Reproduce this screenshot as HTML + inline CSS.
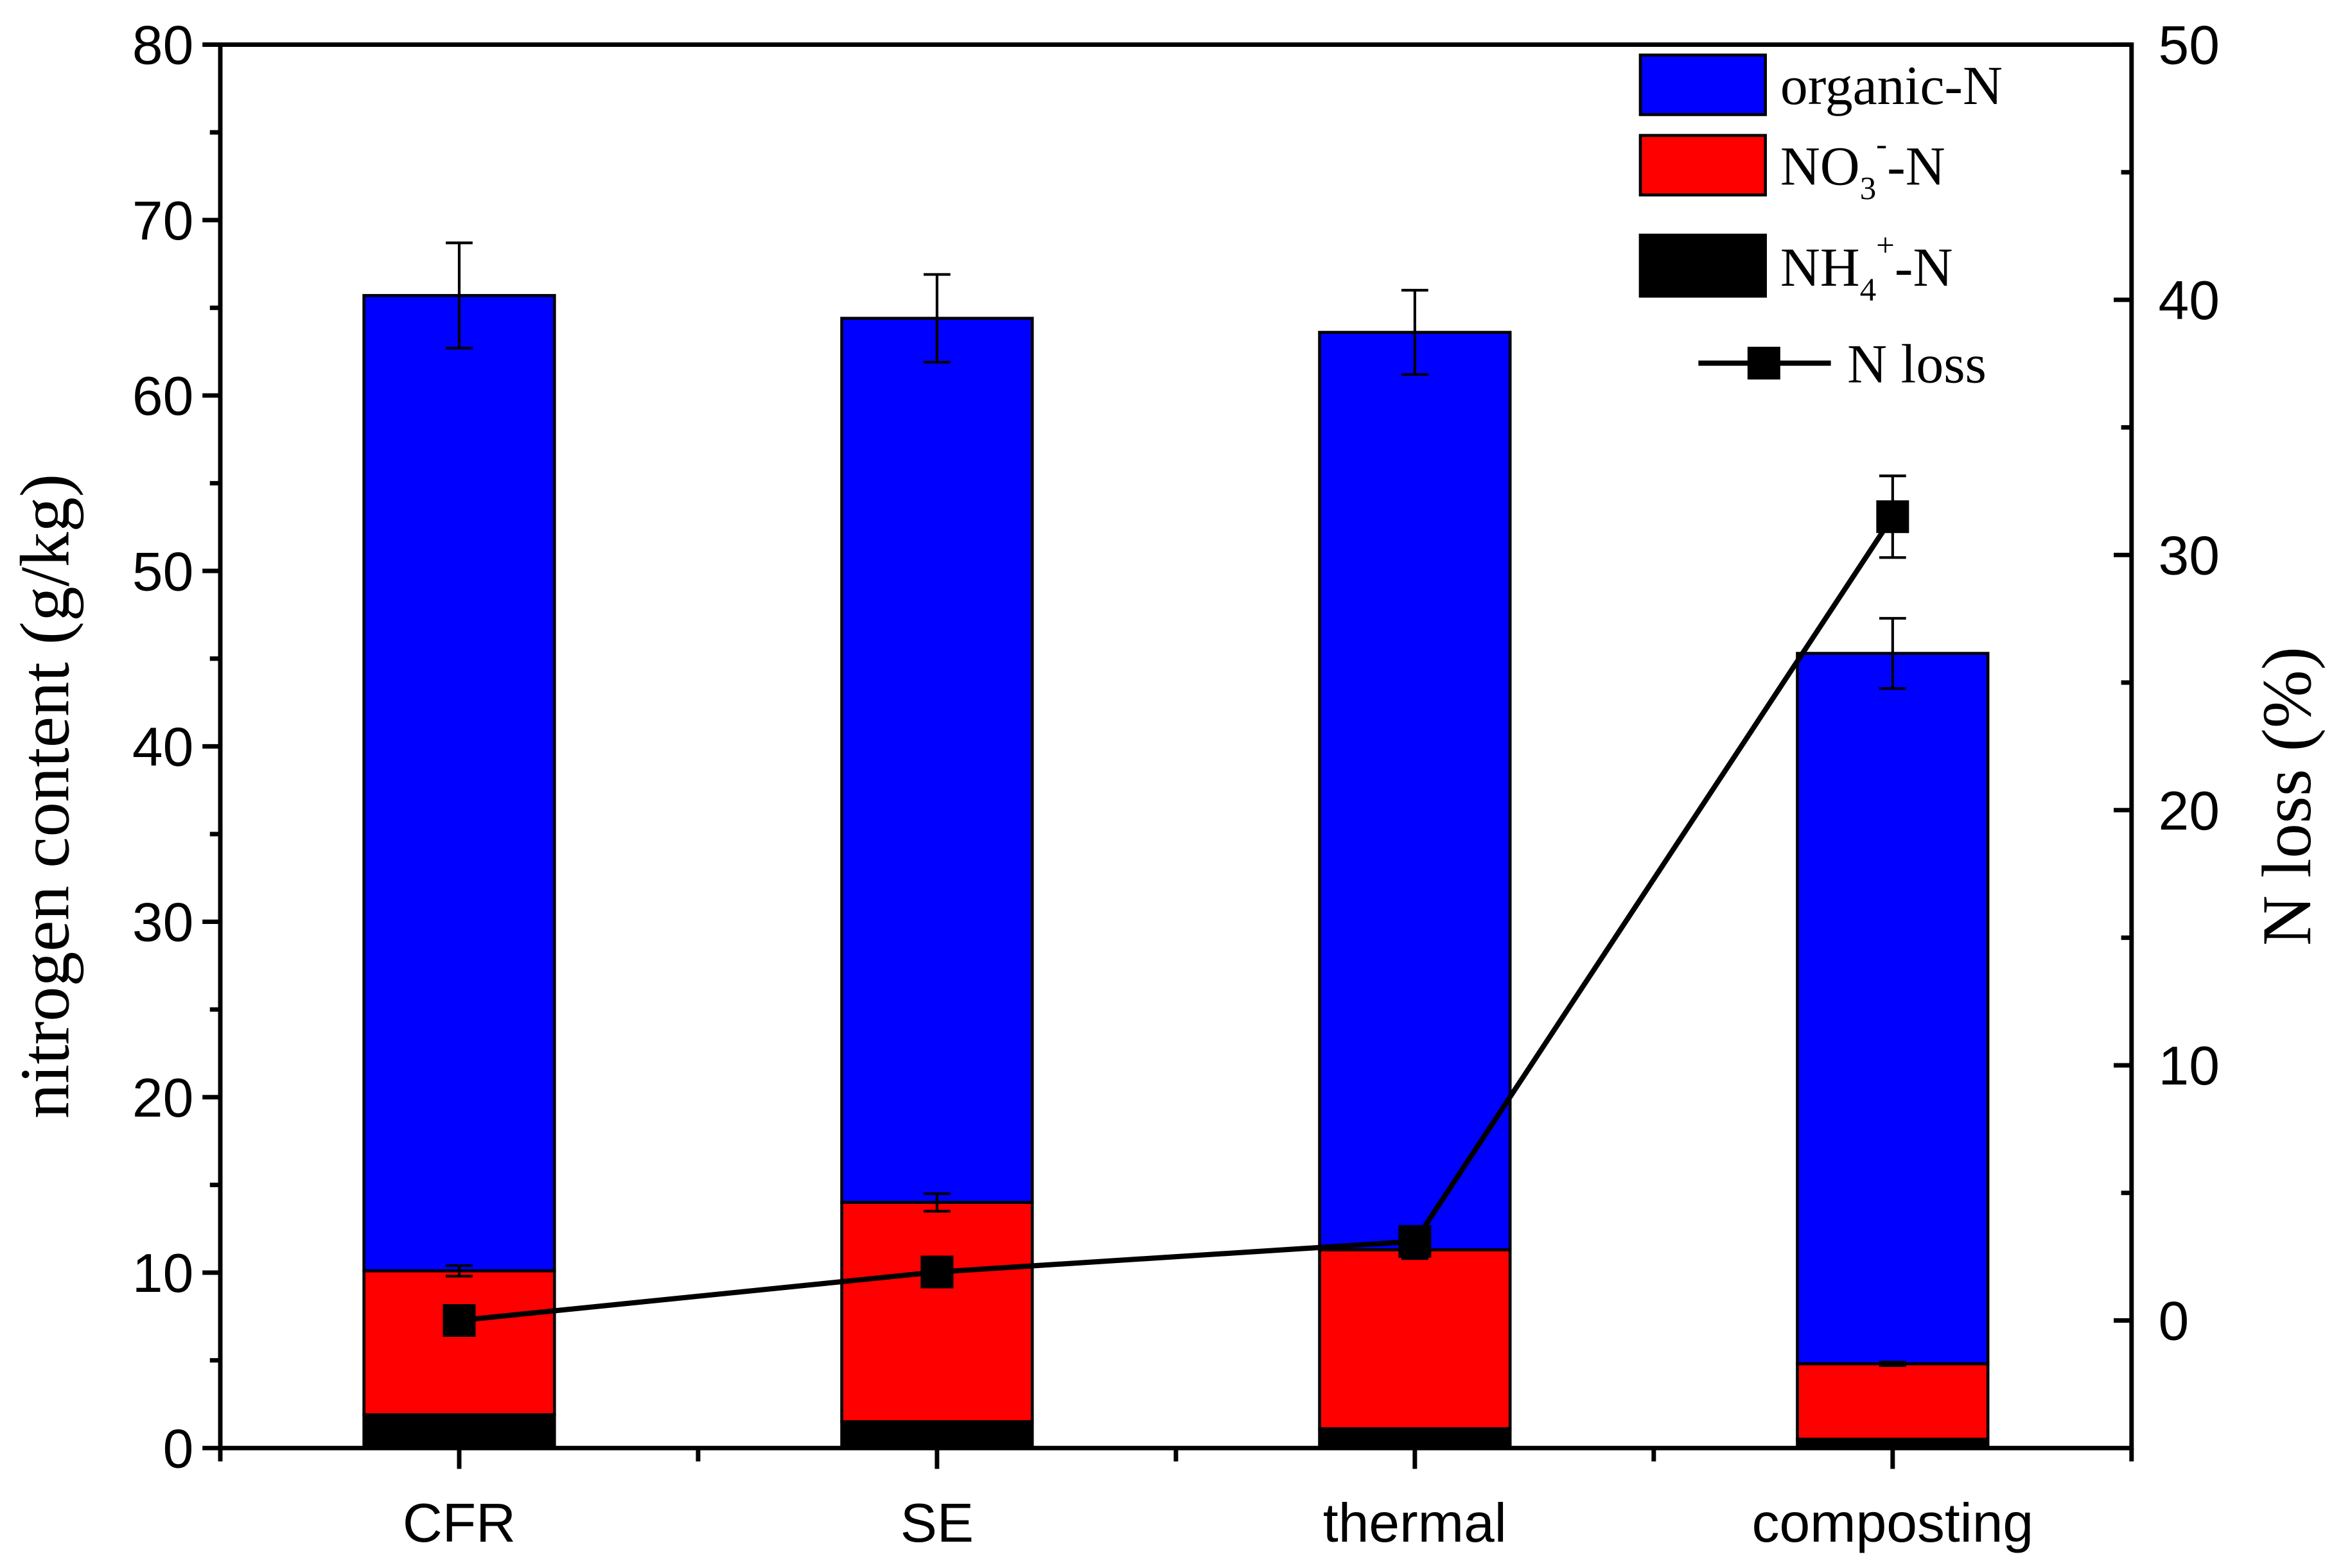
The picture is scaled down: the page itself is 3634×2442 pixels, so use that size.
<!DOCTYPE html>
<html><head><meta charset="utf-8"><style>html,body{margin:0;padding:0;background:#fff}svg{display:block}</style></head>
<body>
<svg id="chart" width="3634" height="2442" viewBox="0 0 1568 1053.6" preserveAspectRatio="none" xmlns="http://www.w3.org/2000/svg">
<g id="g"></g>
</svg>
<script>
const categories = ["CFR","SE","thermal","composting"];
const nh4 = [1.9, 1.5, 1.1, 0.5];
const no3Top = [10.1, 14.0, 11.3, 4.8];
const no3Err = [0.3, 0.5, 0.5, 0.1];
const totalTop = [65.7, 64.4, 63.6, 45.3];
const totalErr = [3.0, 2.5, 2.4, 2.0];
const nLoss = [0.0, 1.9, 3.1, 31.5];
const nLossErr = [0.3, 0.3, 0.3, 1.6];
const leftTicks = [0,10,20,30,40,50,60,70,80];
const rightTicks = [0,10,20,30,40,50];

const L=148,R=1432,T=30,B=973;
const xs = i => L + (i+0.5)*(R-L)/4;
const yl = v => B - v*(B-T)/80;
const yr = v => B - (v+5)*(B-T)/55;
const NS="http://www.w3.org/2000/svg";
const g=document.getElementById('g');
function mk(tag,attrs,parent){const e=document.createElementNS(NS,tag);for(const k in attrs)e.setAttribute(k,attrs[k]);(parent||g).appendChild(e);return e;}
const bw=128;
categories.forEach((c,i)=>{
  const x=xs(i)-bw/2;
  let e=mk('rect',{x:x,y:yl(totalTop[i]),width:bw,height:yl(no3Top[i])-yl(totalTop[i]),fill:'#0000ff',stroke:'#000','stroke-width':2});
  
  
  e=mk('rect',{x:x,y:yl(no3Top[i]),width:bw,height:yl(nh4[i])-yl(no3Top[i]),fill:'#ff0000',stroke:'#000','stroke-width':2});
  
  
  e=mk('rect',{x:x,y:yl(nh4[i]),width:bw,height:yl(0)-yl(nh4[i]),fill:'#000',stroke:'#000','stroke-width':2});
  
  
  [[totalTop[i],totalErr[i]],[no3Top[i],no3Err[i]]].forEach(([v,er])=>{
    const cx=xs(i);
    const p=mk('path',{d:`M${cx},${yl(v+er)}V${yl(v-er)}M${cx-9},${yl(v+er)}H${cx+9}M${cx-9},${yl(v-er)}H${cx+9}`,stroke:'#000','stroke-width':1.8,fill:'none'});
    
    
  });
});
let d='';nLoss.forEach((v,i)=>{d+=(i?'L':'M')+xs(i)+','+yr(v);});
let ln=mk('path',{d:d,stroke:'#000','stroke-width':3.5,fill:'none'});


nLoss.forEach((v,i)=>{
  const cx=xs(i),er=nLossErr[i];
  const p=mk('path',{d:`M${cx},${yr(v+er)}V${yr(v-er)}M${cx-9},${yr(v+er)}H${cx+9}M${cx-9},${yr(v-er)}H${cx+9}`,stroke:'#000','stroke-width':1.8,fill:'none'});
  
  
  const m=mk('rect',{x:cx-11,y:yr(v)-11,width:22,height:22,fill:'#000'});
  
  
});
let fr=mk('rect',{x:L,y:T,width:R-L,height:B-T,fill:'none',stroke:'#000','stroke-width':3});


for(let v=0;v<=80;v+=5){const maj=v%10===0;mk('line',{x1:L-(maj?12:7),x2:L,y1:yl(v),y2:yl(v),stroke:'#000','stroke-width':3});}
leftTicks.forEach(v=>{const t=mk('text',{x:L-18,y:yl(v)+13,'text-anchor':'end','font-family':'Liberation Sans, Arial, sans-serif','font-size':37});t.textContent=v;
  
  });
for(let v=0;v<=50;v+=5){const maj=v%10===0;mk('line',{x1:R-(maj?12:7),x2:R,y1:yr(v),y2:yr(v),stroke:'#000','stroke-width':3});}
rightTicks.forEach(v=>{const t=mk('text',{x:R+18,y:yr(v)+13,'text-anchor':'start','font-family':'Liberation Sans, Arial, sans-serif','font-size':37});t.textContent=v;
  
  });
for(let i=0;i<=4;i++){const x=L+i*(R-L)/4;mk('line',{x1:x,x2:x,y1:B,y2:B+9,stroke:'#000','stroke-width':3});}
categories.forEach((c,i)=>{mk('line',{x1:xs(i),x2:xs(i),y1:B,y2:B+14,stroke:'#000','stroke-width':3});
  const t=mk('text',{x:xs(i),y:1036,'text-anchor':'middle','font-family':'Liberation Sans, Arial, sans-serif','font-size':37});t.textContent=c;
  
  });
</script>
<svg style="position:absolute;left:0;top:0" width="3634" height="2442" viewBox="0 0 1568 1053.6" preserveAspectRatio="none" xmlns="http://www.w3.org/2000/svg">
<text transform="translate(46,535) rotate(-90)" text-anchor="middle" font-family="Liberation Serif, Times New Roman, serif" font-size="47">nitrogen content (g/kg)</text>
<text transform="translate(1552,535) rotate(-90)" text-anchor="middle" font-family="Liberation Serif, Times New Roman, serif" font-size="47">N loss (%)</text>
<g font-family="Liberation Serif, Times New Roman, serif" font-size="37">
<rect x="1102" y="37" width="84" height="40" fill="#0000ff" stroke="#000" stroke-width="2"/>
<text x="1196" y="70">organic-N</text>
<rect x="1102" y="91" width="84" height="40" fill="#ff0000" stroke="#000" stroke-width="2"/>
<text x="1196" y="124">NO<tspan font-size="22" dy="10">3</tspan><tspan font-size="22" dy="-30">-</tspan><tspan dy="20">-N</tspan></text>
<rect x="1102" y="158" width="84" height="41" fill="#000" stroke="#000" stroke-width="2"/>
<text x="1196" y="192">NH<tspan font-size="22" dy="10">4</tspan><tspan font-size="22" dy="-30">+</tspan><tspan dy="20">-N</tspan></text>
<line x1="1141" x2="1230" y1="244" y2="244" stroke="#000" stroke-width="3.5"/>
<rect x="1174" y="233" width="22" height="22" fill="#000"/>
<text x="1241" y="257">N loss</text>
</g>
</svg>
</body></html>
